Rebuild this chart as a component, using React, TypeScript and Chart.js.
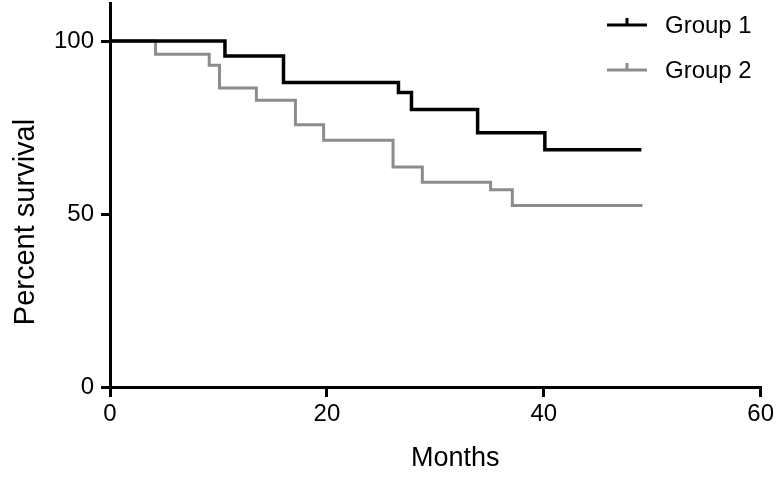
import React, { useEffect, useRef } from "react";
import { Chart, registerables } from "chart.js";

Chart.register(...registerables);

// Kaplan-Meier step data (months, percent survival after the event)
const group1Months = [0, 10.6, 16.0, 26.6, 27.8, 33.9, 40.1, 49.0];
const group1Survival = [100, 95.7, 88.0, 85.1, 80.2, 73.5, 68.6, 68.6];

const group2Months = [0, 4.2, 9.15, 10.1, 13.5, 17.1, 19.7, 26.1, 28.8, 35.1, 37.1, 49.1];
const group2Survival = [100, 96.2, 93.0, 86.4, 82.9, 75.8, 71.3, 63.6, 59.2, 57.0, 52.5, 52.5];

const seriesLabels = ["Group 1", "Group 2"];
const seriesColors = ["#000000", "#8c8c8c"];

const xTicks = [0, 20, 40, 60];
const yTicks = [0, 50, 100];
const xTitle = "Months";
const yTitle = "Percent survival";

const FONT = "'Liberation Sans', Arial, Helvetica, sans-serif";

const toPoints = (xs: number[], ys: number[]) => xs.map((x, i) => ({ x, y: ys[i] }));

const titlesPlugin = {
  id: "axisTitles",
  afterDraw(chart: any) {
    const { ctx, chartArea } = chart;
    ctx.save();
    ctx.fillStyle = "#000";
    ctx.font = `27px ${FONT}`;
    ctx.textAlign = "center";
    ctx.textBaseline = "alphabetic";
    ctx.fillText(xTitle, (chartArea.left + chartArea.right) / 2 + 20, chartArea.bottom + 79);
    ctx.translate(34, (chartArea.top + chartArea.bottom) / 2 + 27);
    ctx.rotate(-Math.PI / 2);
    ctx.font = `29px ${FONT}`;
    ctx.fillText(yTitle, 0, 0);
    ctx.restore();
  },
};

const legendPlugin = {
  id: "kmLegend",
  afterDraw(chart: any) {
    const { ctx } = chart;
    ctx.save();
    chart.data.datasets.forEach((ds: any, i: number) => {
      const y = 25 + i * 45;
      ctx.strokeStyle = ds.borderColor;
      ctx.lineWidth = 3;
      ctx.beginPath();
      ctx.moveTo(607, y);
      ctx.lineTo(647, y);
      ctx.moveTo(627, y);
      ctx.lineTo(627, y - 7);
      ctx.stroke();
      ctx.fillStyle = "#000";
      ctx.font = `24px ${FONT}`;
      ctx.textAlign = "left";
      ctx.textBaseline = "middle";
      ctx.fillText(ds.label, 665, y + 1);
    });
    ctx.restore();
  },
};

export default function App() {
  const ref = useRef<HTMLCanvasElement>(null);

  useEffect(() => {
    if (!ref.current) return;
    const chart = new Chart(ref.current, {
      type: "line",
      data: {
        datasets: [
          {
            label: seriesLabels[0],
            data: toPoints(group1Months, group1Survival),
            borderColor: seriesColors[0],
            borderWidth: 3.5,
            stepped: "before",
            pointRadius: 0,
            fill: false,
          },
          {
            label: seriesLabels[1],
            data: toPoints(group2Months, group2Survival),
            borderColor: seriesColors[1],
            borderWidth: 3,
            stepped: "before",
            pointRadius: 0,
            fill: false,
          },
        ],
      },
      options: {
        responsive: false,
        animation: false,
        layout: { padding: { top: 3, right: 15, left: 0, bottom: 0 } },
        plugins: { legend: { display: false }, tooltip: { enabled: false } },
        scales: {
          x: {
            type: "linear",
            min: 0,
            max: 60,
            afterFit: (s: any) => {
              s.height = 90;
            },
            afterBuildTicks: (s: any) => {
              s.ticks = xTicks.map((v) => ({ value: v }));
            },
            border: { display: true, color: "#000", width: 3 },
            grid: { drawOnChartArea: false, drawTicks: true, tickLength: 10, color: "#000", lineWidth: 3 },
            ticks: { color: "#000", font: { family: FONT, size: 24 }, padding: 3, maxRotation: 0 },
          },
          y: {
            type: "linear",
            min: 0,
            max: 111,
            afterFit: (s: any) => {
              s.width = 110;
              s.paddingTop = 0;
              s.paddingBottom = 0;
            },
            afterBuildTicks: (s: any) => {
              s.ticks = yTicks.map((v) => ({ value: v }));
            },
            border: { display: true, color: "#000", width: 3 },
            grid: { drawOnChartArea: false, drawTicks: true, tickLength: 9, color: "#000", lineWidth: 3 },
            ticks: { color: "#000", font: { family: FONT, size: 24 }, padding: 7 },
          },
        },
      },
      plugins: [titlesPlugin, legendPlugin],
    });
    return () => chart.destroy();
  }, []);

  return (
    <div style={{ position: "fixed", left: 0, top: 0, width: 777, height: 477, background: "#fff" }}>
      <canvas ref={ref} width={777} height={477} />
    </div>
  );
}
